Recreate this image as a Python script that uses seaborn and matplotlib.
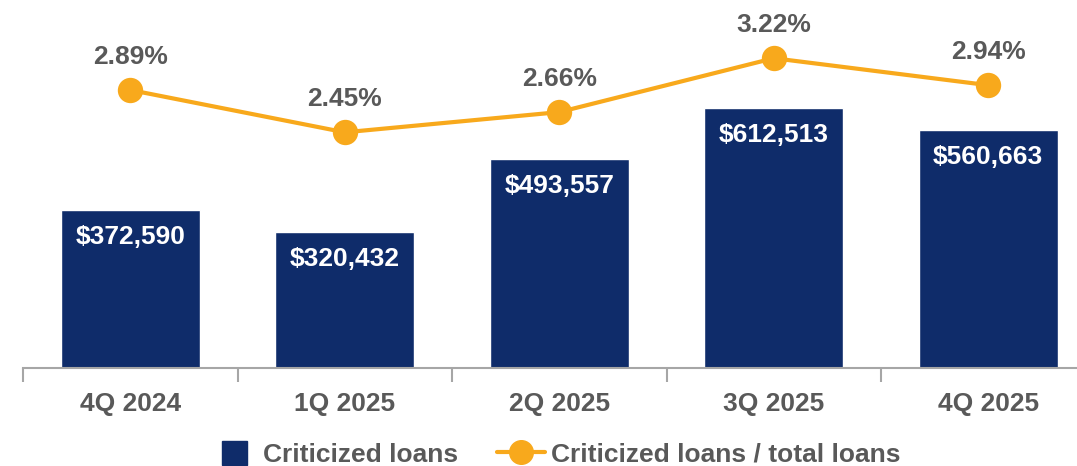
import matplotlib
matplotlib.use("Agg")
import matplotlib.pyplot as plt
from matplotlib.lines import Line2D
from matplotlib.patches import Patch
import seaborn as sns
import pandas as pd

quarters = ["4Q 2024", "1Q 2025", "2Q 2025", "3Q 2025", "4Q 2025"]
criticized_loans = [372590, 320432, 493557, 612513, 560663]
ratio_pct = [2.89, 2.45, 2.66, 3.22, 2.94]

NAVY = "#0F2C6A"
ORANGE = "#F8A91C"
GRAY = "#595959"
AXIS = "#A6A6A6"

sns.set_theme(style="white")
plt.rcParams["font.family"] = ["Liberation Sans", "DejaVu Sans"]
plt.rcParams["font.weight"] = "bold"

df = pd.DataFrame({"quarter": quarters, "loans": criticized_loans, "ratio": ratio_pct})

W, H = 1077, 466
fig = plt.figure(figsize=(W / 100, H / 100), dpi=100)
ax = fig.add_axes([23 / W, (H - 368) / H, 5 * 214.5 / W, 368 / H])

sns.barplot(data=df, x="quarter", y="loans", color=NAVY, saturation=1, width=0.65, ax=ax)
ax.set_ylim(0, 868000)

for i, v in enumerate(criticized_loans):
    ax.annotate(f"${v:,}", xy=(i, v), xytext=(0, -27), textcoords="offset pixels",
                ha="center", va="center", color="white", fontsize=19, fontweight="bold")

ax2 = ax.twinx()
sns.pointplot(data=df, x="quarter", y="ratio", color=ORANGE, markers="o", markersize=16,
              linewidth=3, ax=ax2)
ax2.set_ylim(0, 368 / 96.2)
for i, v in enumerate(ratio_pct):
    ax2.annotate(f"{v:.2f}%", xy=(i, v), xytext=(0, 33), textcoords="offset pixels",
                 ha="center", va="center", color=GRAY, fontsize=19, fontweight="bold")

for a in (ax, ax2):
    a.set_ylabel("")
    a.set_xlabel("")
    a.set_yticks([])
    for s in ("top", "right", "left", "bottom"):
        a.spines[s].set_visible(False)

ax.set_xlim(-0.5, len(quarters) - 0.5)
ax.spines["bottom"].set_visible(True)
ax.spines["bottom"].set_color(AXIS)
ax.spines["bottom"].set_linewidth(1.5)
ax.set_xticks([x - 0.5 for x in range(len(quarters) + 1)])
ax.set_xticklabels([])
ax.tick_params(axis="x", which="major", length=10, width=1.5, color=AXIS, direction="out", bottom=True)
ax.set_xticks(range(len(quarters)), minor=True)
ax.set_xticklabels(quarters, minor=True)
ax.tick_params(axis="x", which="minor", length=0, pad=17, labelsize=19, labelcolor=GRAY, bottom=True)
for lab in ax.get_xticklabels(minor=True):
    lab.set_fontweight("bold")
ax.set_xlim(-0.5, len(quarters) - 0.5)

prop = {"size": 19, "weight": "bold"}
leg1 = fig.legend([Patch(facecolor=NAVY, edgecolor=NAVY)], ["Criticized loans"],
                  loc="center left", bbox_to_anchor=(222 / W, 12 / H), frameon=False, prop=prop,
                  handlelength=0.95, handleheight=1.05, handletextpad=0.6,
                  borderpad=0, borderaxespad=0)
leg2 = fig.legend([Line2D([0], [0], color=ORANGE, lw=3, marker="o", markersize=17)],
                  ["Criticized loans / total loans"],
                  loc="center left", bbox_to_anchor=(497 / W, 12 / H), frameon=False, prop=prop,
                  handlelength=1.82, handletextpad=0.23, borderpad=0, borderaxespad=0)
for lg in (leg1, leg2):
    for t in lg.get_texts():
        t.set_color(GRAY)

fig.savefig("out.png", dpi=100)
